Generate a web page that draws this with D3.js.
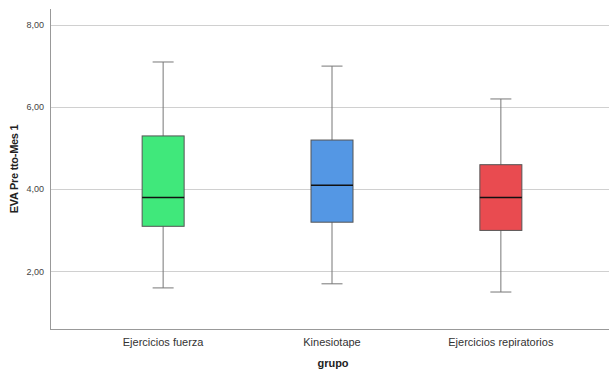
<!DOCTYPE html>
<html>
<head>
<meta charset="utf-8">
<script src="https://cdn.jsdelivr.net/npm/d3@7"></script>
<style>
  body { margin: 0; background: #fff; }
  text { font-family: "Liberation Sans", Arial, sans-serif; }
</style>
</head>
<body>
<svg id="chart" width="609" height="372"></svg>
<script>
// groups and five-number summaries
var grupos = ["Ejercicios fuerza", "Kinesiotape", "Ejercicios repiratorios"];
var minimos = [1.6, 1.7, 1.5];
var q1s = [3.1, 3.2, 3.0];
var medianas = [3.8, 4.1, 3.8];
var q3s = [5.3, 5.2, 4.6];
var maximos = [7.1, 7.0, 6.2];
var colores = ["#40e87b", "#5497e4", "#e94b50"];
var yTicks = [2, 4, 6, 8];

var svg = d3.select("#chart");
var plotLeft = 50, plotTop = 9, plotBottom = 329, plotRight = 609;

var yScale = d3.scaleLinear()
    .domain([0.6, 8.39])
    .range([plotBottom, plotTop]);

var xScale = d3.scalePoint()
    .domain(grupos)
    .range([plotLeft, 614])
    .padding(0.67);

var fmt = function (d) { return d3.format(".2f")(d).replace(".", ","); };

// gridlines
svg.append("g")
    .selectAll("line")
    .data(yTicks)
    .join("line")
    .attr("x1", plotLeft).attr("x2", plotRight)
    .attr("y1", function (d) { return Math.round(yScale(d)) + 0.5; })
    .attr("y2", function (d) { return Math.round(yScale(d)) + 0.5; })
    .attr("stroke", "#d0d0d0")
    .attr("stroke-width", 1);

// y tick labels
svg.append("g")
    .selectAll("text")
    .data(yTicks)
    .join("text")
    .attr("x", plotLeft - 6)
    .attr("y", function (d) { return yScale(d); })
    .attr("dy", "0.35em")
    .attr("text-anchor", "end")
    .attr("font-size", 9)
    .attr("fill", "#444")
    .text(fmt);

// axes lines
svg.append("line")
    .attr("x1", plotLeft + 0.5).attr("x2", plotLeft + 0.5)
    .attr("y1", plotTop).attr("y2", plotBottom)
    .attr("stroke", "#999");
svg.append("line")
    .attr("x1", plotLeft).attr("x2", plotRight)
    .attr("y1", plotBottom + 0.5).attr("y2", plotBottom + 0.5)
    .attr("stroke", "#999");

var boxW = 42, capW = 21;

var boxes = svg.append("g")
    .selectAll("g")
    .data(grupos)
    .join("g");

// whiskers
boxes.append("line")
    .attr("x1", function (d) { return xScale(d); })
    .attr("x2", function (d) { return xScale(d); })
    .attr("y1", function (d, i) { return yScale(maximos[i]); })
    .attr("y2", function (d, i) { return yScale(minimos[i]); })
    .attr("stroke", "#777");

boxes.selectAll(".cap")
    .data(function (d, i) { return [[d, maximos[i]], [d, minimos[i]]]; })
    .join("line")
    .attr("class", "cap")
    .attr("x1", function (d) { return xScale(d[0]) - capW / 2; })
    .attr("x2", function (d) { return xScale(d[0]) + capW / 2; })
    .attr("y1", function (d) { return yScale(d[1]); })
    .attr("y2", function (d) { return yScale(d[1]); })
    .attr("stroke", "#777");

// boxes
boxes.append("rect")
    .attr("x", function (d) { return xScale(d) - boxW / 2; })
    .attr("y", function (d, i) { return yScale(q3s[i]); })
    .attr("width", boxW)
    .attr("height", function (d, i) { return yScale(q1s[i]) - yScale(q3s[i]); })
    .attr("fill", function (d, i) { return colores[i]; })
    .attr("stroke", "#555")
    .attr("stroke-width", 1);

// medians
boxes.append("line")
    .attr("x1", function (d) { return xScale(d) - boxW / 2; })
    .attr("x2", function (d) { return xScale(d) + boxW / 2; })
    .attr("y1", function (d, i) { return yScale(medianas[i]); })
    .attr("y2", function (d, i) { return yScale(medianas[i]); })
    .attr("stroke", "#111")
    .attr("stroke-width", 1.5);

// x category labels
svg.append("g")
    .selectAll("text")
    .data(grupos)
    .join("text")
    .attr("x", function (d) { return xScale(d); })
    .attr("y", 346)
    .attr("text-anchor", "middle")
    .attr("font-size", 11)
    .attr("fill", "#333")
    .text(function (d) { return d; });

// axis titles
svg.append("text")
    .attr("x", 333)
    .attr("y", 367)
    .attr("text-anchor", "middle")
    .attr("font-size", 11)
    .attr("font-weight", "bold")
    .attr("fill", "#222")
    .text("grupo");

svg.append("text")
    .attr("transform", "translate(18,169) rotate(-90)")
    .attr("text-anchor", "middle")
    .attr("font-size", 11)
    .attr("letter-spacing", "-0.3")
    .attr("font-weight", "bold")
    .attr("fill", "#222")
    .text("EVA Pre tto-Mes 1");
</script>
</body>
</html>
